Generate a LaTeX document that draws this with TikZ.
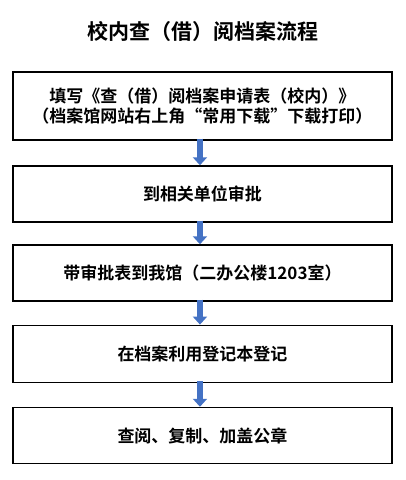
\documentclass[tikz,border=0pt]{standalone}
\usepackage{fontspec}
\newfontfamily\cjk{Noto Sans CJK SC}[BoldFont=* Bold]
\usetikzlibrary{arrows.meta,positioning}
\definecolor{flowblue}{RGB}{68,114,196}

\begin{document}
\begin{tikzpicture}[x=0.75pt,y=-0.75pt]
		\tikzstyle {step box} = [draw, line width=1.1pt, minimum width=284pt, align=center, font=\cjk\bfseries\fontsize{12.75pt}{15pt}\selectfont]
		\tikzstyle {flow arrow} = [draw=flowblue, line width=4.5pt, -{Triangle[width=10.5pt,length=6pt]}, shorten <=-1.5pt]

		\useasboundingbox (0,0) rectangle (406,480);

		\node (title) at (203,32) {\cjk\bfseries\fontsize{15.75pt}{18pt}\selectfont 校内查（借）阅档案流程};

		\node[step box, minimum height=51pt] (fill) at (202.5,106) {填写《查（借）阅档案申请表（校内）》\\（档案馆网站右上角“常用下载”下载打印）};
		\node[step box, minimum height=42pt] (approve) at (202.5,194) {到相关单位审批};
		\node[step box, minimum height=42pt] (bring) at (202.5,273) {带审批表到我馆（二办公楼1203室）};
		\node[step box, minimum height=43pt] (register) at (202.5,354) {在档案利用登记本登记};
		\node[step box, minimum height=42pt] (consult) at (202.5,435.5) {查阅、复制、加盖公章};

		\draw[flow arrow] ([xshift=-1.9pt]fill.south) -- ([xshift=-1.9pt]approve.north);
		\draw[flow arrow] ([xshift=-1.9pt]approve.south) -- ([xshift=-1.9pt]bring.north);
		\draw[flow arrow] ([xshift=-1.9pt]bring.south) -- ([xshift=-1.9pt]register.north);
		\draw[flow arrow] ([xshift=-1.9pt]register.south) -- ([xshift=-1.9pt]consult.north);
	\end{tikzpicture}
\end{document}
